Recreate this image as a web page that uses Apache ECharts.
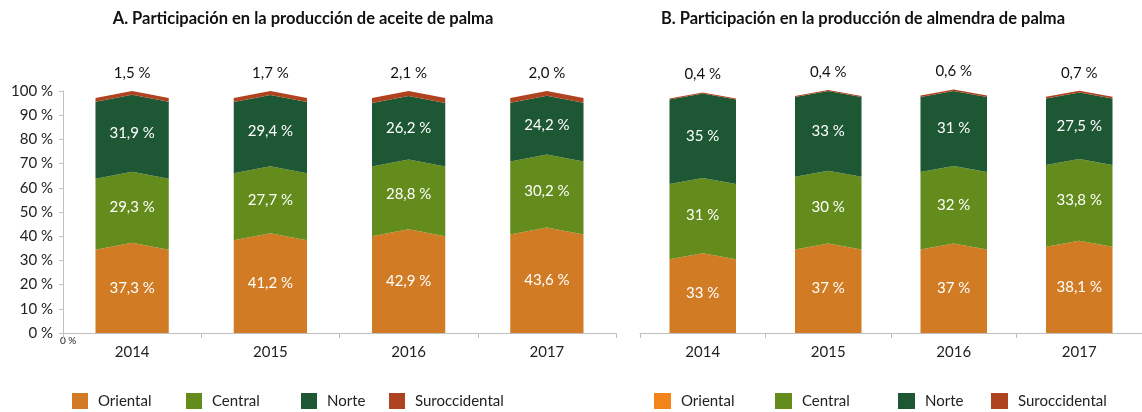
<!DOCTYPE html>
<html>
<head>
<meta charset="utf-8">
<script src="https://cdn.jsdelivr.net/npm/echarts@6/dist/echarts.min.js"></script>
<style>
  html, body { margin: 0; padding: 0; background: #fff; }
  #chart { width: 1142px; height: 412px; }
</style>
</head>
<body>
<div id="chart"></div>
<script>
// años
const years = ['2014', '2015', '2016', '2017']
const seriesNames = ['Oriental', 'Central', 'Norte', 'Suroccidental']

// A. aceite de palma (%)
const aceiteOriental = [37.3, 41.2, 42.9, 43.6]
const aceiteCentral = [29.3, 27.7, 28.8, 30.2]
const aceiteNorte = [31.9, 29.4, 26.2, 24.2]
const aceiteSuroccidental = [1.5, 1.7, 2.1, 2.0]

// B. almendra de palma (%)
const almendraOriental = [33, 37, 37, 38.1]
const almendraCentral = [31, 30, 32, 33.8]
const almendraNorte = [35, 33, 31, 27.5]
const almendraSuroccidental = [0.4, 0.4, 0.6, 0.7]

const yTicks = [0, 10, 20, 30, 40, 50, 60, 70, 80, 90, 100]

const colors = ['#D17C25', '#638C1C', '#1E5734', '#B0431F']
const legendColorsB = ['#F2841A', '#638C1C', '#1E5734', '#B0431F']

const font = 'Lato, "Open Sans", sans-serif'
const chart = echarts.init(document.getElementById('chart'))

// formato con coma decimal
function fmt(v, panel) {
  if (panel === 1 && Number.isInteger(v)) return v + ' %'
  return v.toFixed(1).replace('.', ',') + ' %'
}

// serie apilada con tapa en punta (estilo columna 3D)
function buildSeries(panel, lists) {
  const bases = lists.map((list, s) => list.map((v, i) => {
    let b = 0
    for (let k = 0; k < s; k++) b += lists[k][i]
    return b
  }))
  return lists.map((list, s) => ({
    name: seriesNames[s],
    type: 'custom',
    xAxisIndex: panel,
    yAxisIndex: panel,
    itemStyle: { color: panel === 1 ? legendColorsB[s] : colors[s] },
    data: list.map((v, i) => [i, v]),
    renderItem: (params, api) => {
      const i = api.value(0)
      const v = api.value(1)
      const lo = bases[s][i]
      const hi = lo + v
      const xc = api.coord([i, 0])[0]
      const w = api.size([1, 0])[0] * 0.53
      const xl = xc - w / 2
      const xr = xc + w / 2
      const d = panel === 1 ? 6 : 7
      const yb = api.coord([i, lo])[1]
      const yt = api.coord([i, hi])[1]
      const pts = lo === 0
        ? [[xl, yb], [xr, yb]]
        : [[xl, yb + d], [xc, yb], [xr, yb + d]]
      pts.push([xr, yt + d], [xc, yt], [xl, yt + d])
      const children = [{
        type: 'polygon',
        shape: { points: pts },
        style: { fill: colors[s] }
      }]
      const inside = s < 3
      children.push({
        type: 'text',
        style: {
          x: xc, y: inside ? (yb + yt) / 2 : yt - 18,
          text: fmt(v, panel),
          fill: inside ? '#fff' : '#111',
          font: '15px ' + font,
          align: 'center',
          verticalAlign: 'middle'
        }
      })
      return { type: 'group', children: children }
    }
  }))
}

const seriesA = buildSeries(0, [aceiteOriental, aceiteCentral, aceiteNorte, aceiteSuroccidental])
const seriesB = buildSeries(1, [almendraOriental, almendraCentral, almendraNorte, almendraSuroccidental])

const legendLeftA = [72, 186, 301, 389]
const legendLeftB = [654, 775, 898, 991]
const legends = []
seriesNames.forEach((n, s) => {
  legends.push({
    left: legendLeftA[s], top: 393, padding: 0, itemWidth: 16, itemHeight: 16,
    selectedMode: false, icon: 'rect',
    textStyle: { fontFamily: font, fontSize: 15, color: '#222', padding: [0, 0, 0, 5] },
    data: [{ name: n, itemStyle: { color: colors[s] } }]
  })
  legends.push({
    left: legendLeftB[s], top: 393, padding: 0, itemWidth: 17, itemHeight: 16,
    selectedMode: false, icon: 'rect',
    textStyle: { fontFamily: font, fontSize: 15, color: '#222', padding: [0, 0, 0, 5] },
    data: [{ name: n, itemStyle: { color: legendColorsB[s] } }]
  })
})

const xAxisBase = {
  type: 'category',
  data: years,
  axisLine: { lineStyle: { color: '#BFBFBF', width: 1 } },
  axisTick: { show: true, length: 5, lineStyle: { color: '#BFBFBF' } },
  axisLabel: { fontFamily: font, fontSize: 15, color: '#222', margin: 12 }
}

const option = {
  animation: false,
  backgroundColor: '#fff',
  title: [
    {
      text: 'A. Participación en la producción de aceite de palma',
      left: 298, top: 5, textAlign: 'center',
      textStyle: { fontFamily: font, fontSize: 16.5, fontWeight: 'bold', color: '#111' }
    },
    {
      text: 'B. Participación en la producción de almendra de palma',
      left: 858, top: 5, textAlign: 'center',
      textStyle: { fontFamily: font, fontSize: 16.5, fontWeight: 'bold', color: '#111' }
    }
  ],
  legend: legends,
  grid: [
    { left: 63, top: 91, width: 553, height: 242 },
    { left: 640, top: 91, width: 508, height: 242 }
  ],
  xAxis: [
    Object.assign({ gridIndex: 0 }, xAxisBase),
    Object.assign({ gridIndex: 1 }, xAxisBase)
  ],
  yAxis: [
    {
      gridIndex: 0, type: 'value',
      min: yTicks[0], max: yTicks[yTicks.length - 1], interval: 10,
      axisLine: { show: true, lineStyle: { color: '#BFBFBF' } },
      axisTick: { show: true, length: 4, lineStyle: { color: '#BFBFBF' } },
      splitLine: { show: false },
      axisLabel: { fontFamily: font, fontSize: 15, color: '#222', margin: 10, formatter: '{value} %' }
    },
    {
      gridIndex: 1, type: 'value',
      min: yTicks[0], max: yTicks[yTicks.length - 1], interval: 10,
      show: false
    }
  ],
  graphic: [
    {
      type: 'text', left: 60, top: 336,
      style: { text: '0 %', font: '10px ' + font, fill: '#222' }
    }
  ],
  series: seriesA.concat(seriesB)
}

chart.setOption(option)
</script>
</body>
</html>
